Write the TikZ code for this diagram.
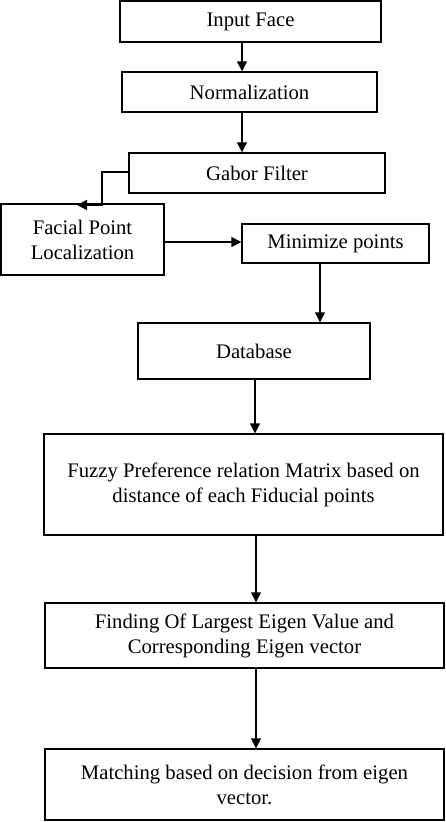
\documentclass[tikz,border=0pt]{standalone}
\usepackage{fontspec}
\setmainfont{Liberation Serif}
\usetikzlibrary{arrows.meta}
\begin{document}
\begin{tikzpicture}[x=1pt,y=-1pt,
  box/.style={draw,line width=1.4pt,inner sep=0pt,align=center,font=\fontsize{20.7}{25}\selectfont},
  arr/.style={line width=1.4pt,-{Triangle[length=10pt,width=10pt]}}]
\useasboundingbox (0,0) rectangle (445,822);
\node[box,minimum width=261pt,minimum height=41pt] (in) at (250.5,21.5) {Input Face};
\node[box,minimum width=255pt,minimum height=40pt] (norm) at (249.5,92) {Normalization};
\node[box,minimum width=256pt,minimum height=40pt] (gab) at (257,173) {Gabor Filter};
\node[box,minimum width=163pt,minimum height=71pt] (fac) at (82.5,239.5) {Facial Point\\Localization};
\node[box,minimum width=187pt,minimum height=39pt] (mini) at (335.5,243.5) {Minimize points};
\node[box,minimum width=232pt,minimum height=56pt] (db) at (254,351) {Database};
\node[box,minimum width=399pt,minimum height=101pt] (fuz) at (243.5,484.5) {Fuzzy Preference relation Matrix based on\\distance of each Fiducial points};
\node[box,minimum width=399pt,minimum height=65pt] (fin) at (244.5,635.5) {Finding Of Largest Eigen Value and\\Corresponding Eigen vector};
\node[box,minimum width=399pt,minimum height=71pt] (mat) at (244.5,784.5) {Matching based on decision from eigen\\vector.};
\coordinate (c1) at (242,0);
\coordinate (c2) at (320,0);
\coordinate (c3) at (255,0);
\coordinate (c4) at (256,0);
\coordinate (g1) at (102,172);
\coordinate (g2) at (77,205);
\coordinate (h1) at (0,242);
\draw[arr] (in.south -| c1) -- (norm.north -| c1);
\draw[arr] (norm.south -| c1) -- (gab.north -| c1);
\draw[arr] (gab.west |- g1) -- (g1) |- (g2);
\draw[arr] (fac.east |- h1) -- (mini.west |- h1);
\draw[arr] (mini.south -| c2) -- (db.north -| c2);
\draw[arr] (db.south -| c3) -- (fuz.north -| c3);
\draw[arr] (fuz.south -| c4) -- (fin.north -| c4);
\draw[arr] (fin.south -| c4) -- (mat.north -| c4);
\end{tikzpicture}
\end{document}
